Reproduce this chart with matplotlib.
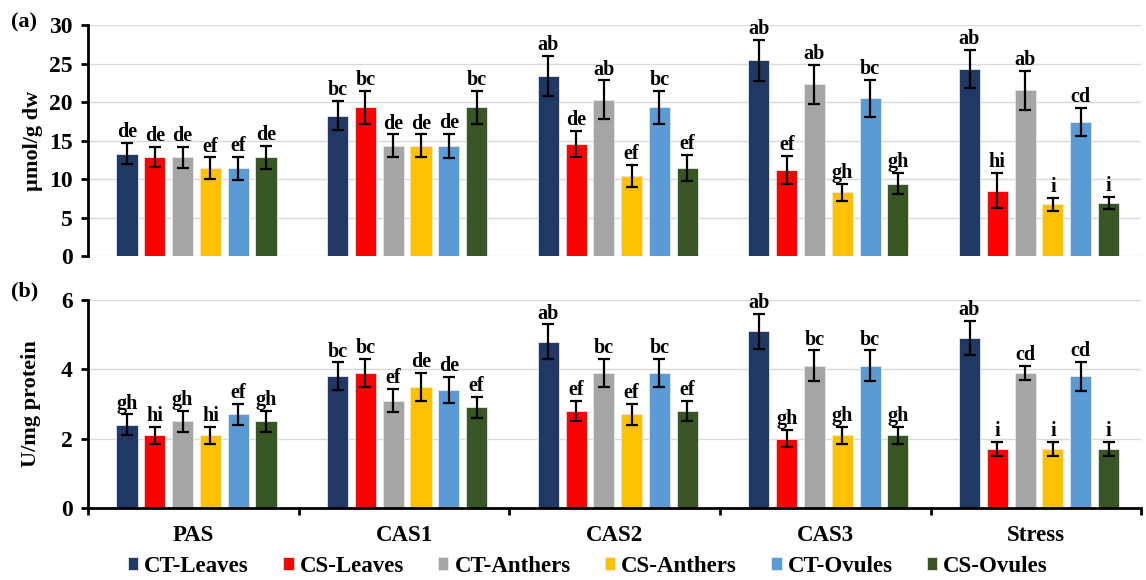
import numpy as np
import matplotlib
matplotlib.use("Agg")
import matplotlib.pyplot as plt

plt.rcParams["font.family"] = ["Liberation Serif", "DejaVu Serif"]
plt.rcParams["font.weight"] = "bold"

stages = ["PAS", "CAS1", "CAS2", "CAS3", "Stress"]
series = ["CT-Leaves", "CS-Leaves", "CT-Anthers", "CS-Anthers", "CT-Ovules", "CS-Ovules"]
colors = ["#1F3864", "#FF0000", "#A5A5A5", "#FFC000", "#5B9BD5", "#375623"]

# panel (a): umol/g dw
a_vals = [
    [13.3, 18.2, 23.4, 25.4, 24.3],
    [12.9, 19.3, 14.5, 11.2, 8.5],
    [12.8, 14.3, 20.3, 22.3, 21.5],
    [11.4, 14.3, 10.4, 8.3, 6.7],
    [11.4, 14.3, 19.3, 20.5, 17.4],
    [12.8, 19.3, 11.4, 9.4, 6.9],
]
a_err = [
    [1.4, 1.9, 2.6, 2.7, 2.5],
    [1.3, 2.1, 1.7, 1.8, 2.3],
    [1.4, 1.5, 2.5, 2.5, 2.5],
    [1.4, 1.5, 1.4, 1.1, 0.8],
    [1.5, 1.6, 2.1, 2.4, 1.8],
    [1.5, 2.1, 1.7, 1.4, 0.8],
]
a_letters = [
    ["de", "bc", "ab", "ab", "ab"],
    ["de", "bc", "de", "ef", "hi"],
    ["de", "de", "ab", "ab", "ab"],
    ["ef", "de", "ef", "gh", "i"],
    ["ef", "de", "bc", "bc", "cd"],
    ["de", "bc", "ef", "gh", "i"],
]

# panel (b): U/mg protein
b_vals = [
    [2.4, 3.8, 4.8, 5.1, 4.9],
    [2.1, 3.9, 2.8, 2.0, 1.7],
    [2.5, 3.1, 3.9, 4.1, 3.9],
    [2.1, 3.5, 2.7, 2.1, 1.7],
    [2.7, 3.4, 3.9, 4.1, 3.8],
    [2.5, 2.9, 2.8, 2.1, 1.7],
]
b_err = [
    [0.3, 0.4, 0.5, 0.5, 0.5],
    [0.25, 0.4, 0.3, 0.25, 0.2],
    [0.3, 0.33, 0.4, 0.45, 0.2],
    [0.25, 0.4, 0.3, 0.25, 0.2],
    [0.3, 0.38, 0.4, 0.45, 0.42],
    [0.3, 0.3, 0.3, 0.25, 0.2],
]
b_letters = [
    ["gh", "bc", "ab", "ab", "ab"],
    ["hi", "bc", "ef", "gh", "i"],
    ["gh", "ef", "bc", "bc", "cd"],
    ["hi", "de", "ef", "gh", "i"],
    ["ef", "de", "bc", "bc", "cd"],
    ["gh", "ef", "ef", "gh", "i"],
]

fig = plt.figure(figsize=(11.46, 5.8), dpi=100)
ax_a = fig.add_axes([0.0768, 0.5586, 0.919, 0.3983])
ax_b = fig.add_axes([0.0768, 0.1241, 0.919, 0.3587])

x = np.arange(len(stages))
step = 0.132
width = 0.10


def draw_panel(ax, vals, errs, letters, ymax, ystep, pad):
    handles = []
    for k in range(len(series)):
        pos = x + (k - 2.5) * step + 0.015
        h = ax.bar(pos, vals[k], width, color=colors[k], edgecolor="#E8E8E8",
                   linewidth=0.6, zorder=2, label=series[k])
        ax.errorbar(pos, vals[k], yerr=errs[k], fmt="none", ecolor="black",
                    elinewidth=1.6, capsize=4, capthick=1.6, zorder=3)
        for p, v, e, t in zip(pos, vals[k], errs[k], letters[k]):
            ax.text(p, v + e + pad, t, ha="center", va="bottom",
                    fontsize=14.5, fontweight="bold")
        handles.append(h)
    ax.set_xlim(-0.5, len(stages) - 0.5)
    ax.set_ylim(0, ymax)
    ax.set_yticks(np.arange(0, ymax + 0.01, ystep))
    ax.yaxis.grid(True, color="#D9D9D9", linewidth=1.0, zorder=0)
    ax.set_axisbelow(True)
    for s in ["top", "right"]:
        ax.spines[s].set_visible(False)
    ax.spines["left"].set_linewidth(2)
    ax.tick_params(axis="y", labelsize=17, width=2, length=5, pad=6)
    for lab in ax.get_yticklabels():
        lab.set_fontweight("bold")
    return handles


handles = draw_panel(ax_a, a_vals, a_err, a_letters, 30, 5, 0.1)
ax_a.spines["bottom"].set_visible(False)
ax_a.set_xticks([])
ax_a.set_ylabel("µmol/g dw", fontsize=16, fontweight="bold", labelpad=4)

draw_panel(ax_b, b_vals, b_err, b_letters, 6, 2, 0.02)
ax_b.spines["bottom"].set_linewidth(2)
ax_b.set_xticks(np.arange(-0.5, len(stages)))
ax_b.set_xticklabels([])
ax_b.tick_params(axis="x", which="major", width=2, length=5)
ax_b.set_xticks(x, minor=True)
ax_b.set_xticklabels(stages, minor=True, fontsize=16.5, fontweight="bold")
ax_b.tick_params(axis="x", which="minor", length=0, pad=12)
ax_b.set_ylabel("U/mg protein", fontsize=16, fontweight="bold", labelpad=14)

fig.text(0.010, 0.962, "(a)", fontsize=16, fontweight="bold", va="center")
fig.text(0.010, 0.498, "(b)", fontsize=16, fontweight="bold", va="center")

fig.legend(handles=handles, labels=series, loc="lower center", ncol=6,
           bbox_to_anchor=(0.513, -0.03), frameon=False, fontsize=16.5,
           handlelength=0.45, handleheight=0.45, handletextpad=0.26,
           columnspacing=1.5)

fig.savefig("out.png", dpi=100)
